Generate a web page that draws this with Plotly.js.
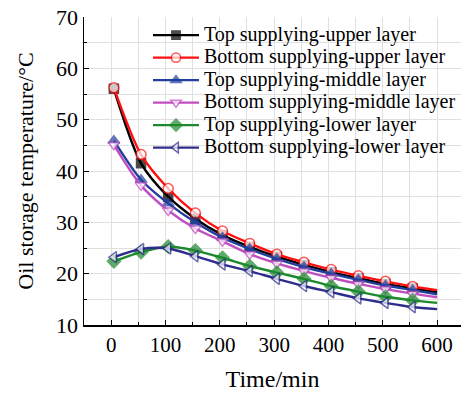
<!DOCTYPE html>
<html>
<head>
<meta charset="utf-8">
<script src="https://cdn.plot.ly/plotly-3.0.1.min.js"></script>
<style>html,body{margin:0;padding:0;background:#fff}#chart{width:462px;height:393px}</style>
</head>
<body>
<div id="chart"></div>
<script>
const time = [5, 55, 105, 155, 205, 255, 305, 355, 405, 455, 505, 555, 600];
const topUpper = [56.0, 41.5, 35.0, 30.7, 27.5, 25.2, 23.3, 21.7, 20.3, 19.1, 18.0, 17.1, 16.4];
const bottomUpper = [56.2, 43.2, 36.6, 31.8, 28.3, 25.9, 23.8, 22.2, 20.8, 19.6, 18.5, 17.5, 16.8];
const topMiddle = [45.9, 38.3, 33.7, 30.0, 27.0, 24.8, 22.9, 21.3, 20.0, 18.8, 17.7, 16.8, 16.0];
const bottomMiddle = [45.1, 37.2, 32.3, 28.8, 26.3, 23.8, 22.0, 20.5, 19.2, 18.0, 17.0, 16.1, 15.4];
const topLower = [22.4, 24.2, 25.3, 24.5, 23.1, 21.5, 20.2, 19.0, 17.6, 16.5, 15.5, 14.8, 14.3];
const bottomLower = [23.2, 24.8, 24.9, 23.4, 21.8, 20.5, 19.0, 17.6, 16.4, 15.2, 14.3, 13.5, 13.1];
const seriesNames = ["Top supplying-upper layer", "Bottom supplying-upper layer", "Top supplying-middle layer", "Bottom supplying-middle layer", "Top supplying-lower layer", "Bottom supplying-lower layer"];
const xTicks = [0, 100, 200, 300, 400, 500, 600];
const yTicks = [10, 20, 30, 40, 50, 60, 70];

const styles = [
  {color: "#000000", symbol: "square", fill: "#000000", size: 9},
  {color: "#ff1010", symbol: "circle", fill: "#ffffff", size: 10},
  {color: "#233f9e", symbol: "triangle-up", fill: "#233f9e", size: 10},
  {color: "#c04ec0", symbol: "triangle-down", fill: "#ffffff", size: 10},
  {color: "#1c8a2c", symbol: "diamond", fill: "#1c8a2c", size: 10},
  {color: "#2e2d8c", symbol: "triangle-left", fill: "#ffffff", size: 10}
];
const allY = [topUpper, bottomUpper, topMiddle, bottomMiddle, topLower, bottomLower];
const traces = allY.map((ys, i) => {
  const s = styles[i];
  return {
    x: time, y: ys, name: '<span style="font-size:20px">' + seriesNames[i] + '</span>',
    type: "scatter", mode: "lines+markers",
    line: {color: s.color, width: 2.4, shape: "spline", smoothing: 0.8},
    marker: {symbol: s.symbol, color: s.fill, size: time.map((t, k) => k === time.length - 1 ? 0 : s.size),
             line: {color: s.color, width: 1.5}},
    hoverinfo: "skip"
  };
});
const fontFam = "Liberation Serif, Times New Roman, serif";
const layout = {
  width: 462, height: 393,
  margin: {l: 84, r: 1, t: 17, b: 68},
  paper_bgcolor: "#ffffff", plot_bgcolor: "#ffffff",
  font: {family: fontFam, color: "#000"},
  showlegend: true,
  legend: {x: 1, y: 0.994, xanchor: "right", yanchor: "top", bgcolor: "rgba(0,0,0,0)",
           itemwidth: 46,
           font: {family: fontFam, size: 15, color: "#000"}, tracegroupgap: 0},
  xaxis: {
    range: [-50, 644], tickvals: xTicks, ticktext: xTicks.map(String),
    ticks: "inside", ticklen: 5, tickwidth: 1, tickcolor: "#000",
    showline: true, linecolor: "#000", linewidth: 1.5, mirror: false,
    showgrid: true, gridcolor: "#e0e0e0", gridwidth: 1, zeroline: false,
    minor: {dtick: 50, tick0: 0, ticks: "inside", ticklen: 3, tickcolor: "#000", showgrid: true, gridcolor: "#e0e0e0", gridwidth: 1},
    tickfont: {family: fontFam, size: 21, color: "#000"},
    title: {text: "Time/min", font: {family: fontFam, size: 24, color: "#000"}, standoff: 14}
  },
  yaxis: {
    range: [10, 70], tickvals: yTicks, ticktext: yTicks.map(String),
    ticks: "inside", ticklen: 5, tickwidth: 1, tickcolor: "#000",
    showline: true, linecolor: "#000", linewidth: 1.5, mirror: false,
    showgrid: true, gridcolor: "#e0e0e0", gridwidth: 1, zeroline: false,
    minor: {dtick: 5, tick0: 10, ticks: "inside", ticklen: 3, tickcolor: "#000", showgrid: true, gridcolor: "#e0e0e0", gridwidth: 1},
    tickfont: {family: fontFam, size: 22, color: "#000"},
    title: {text: "Oil storage temperature/°C", font: {family: fontFam, size: 22, color: "#000"}, standoff: 16}
  }
};
Plotly.newPlot("chart", traces, layout, {staticPlot: true, displayModeBar: false});
</script>
</body>
</html>
